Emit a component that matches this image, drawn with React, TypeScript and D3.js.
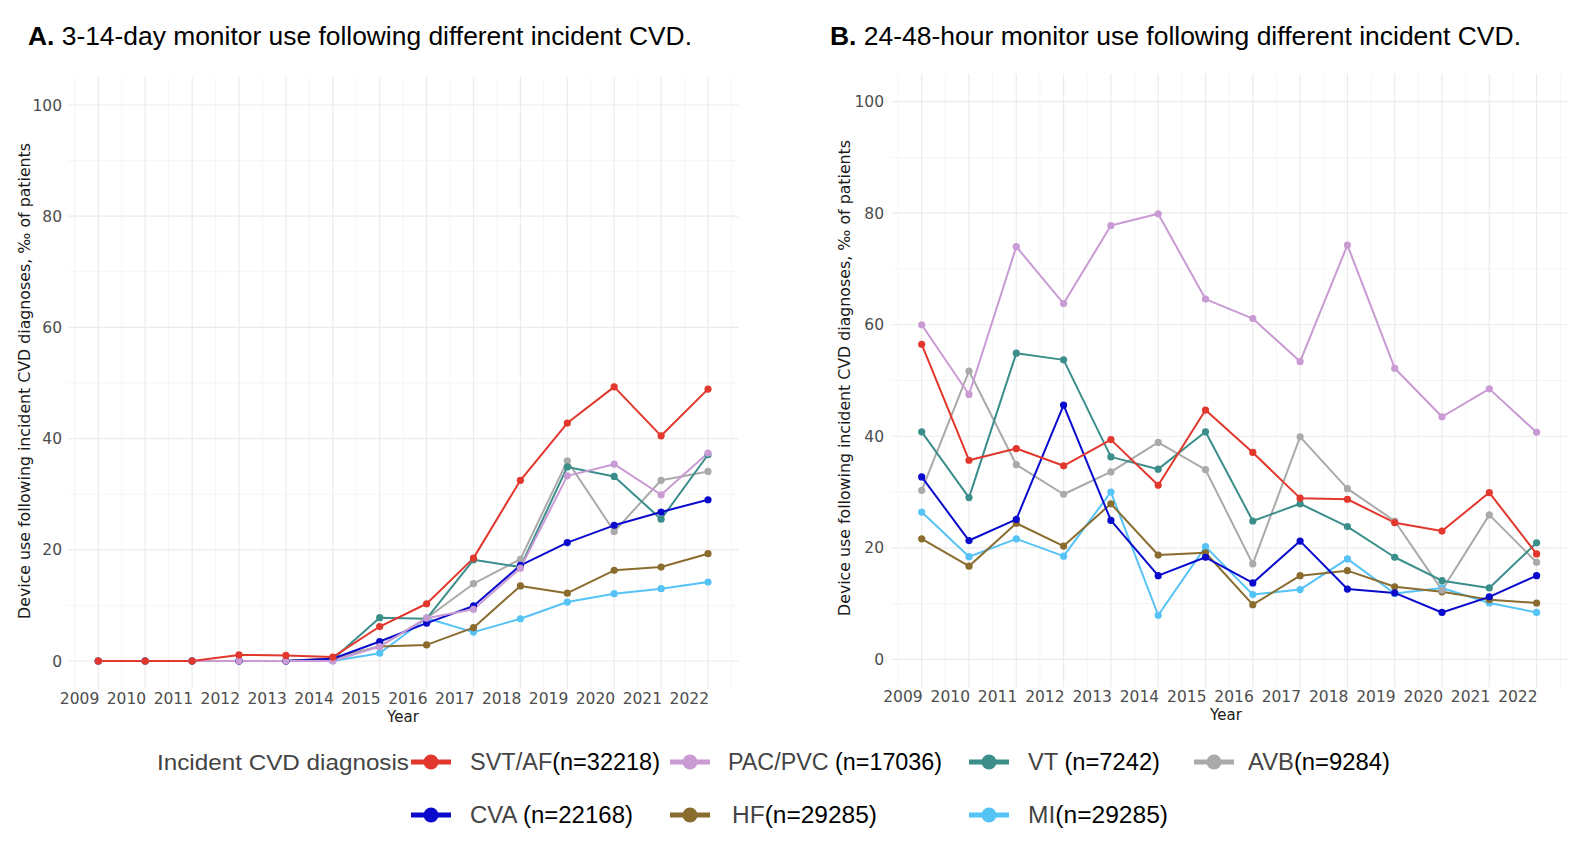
import React from 'react';
import * as d3 from 'd3';

const YEARS = [2009, 2010, 2011, 2012, 2013, 2014, 2015, 2016, 2017, 2018, 2019, 2020, 2021, 2022];
const Y_TICKS = [0, 20, 40, 60, 80, 100];
const Y_MINOR = [10, 30, 50, 70, 90];

const SERIES_NAMES = ['SVT/AF', 'PAC/PVC', 'VT', 'AVB', 'CVA', 'HF', 'MI'];
const SERIES_N = ['(n=32218)', '(n=17036)', '(n=7242)', '(n=9284)', '(n=22168)', '(n=29285)', '(n=29285)'];
const SERIES_SEP = ['', ' ', ' ', '', ' ', '', ''];
const COLORS = ['#E2372C', '#C99AD3', '#3B8E8A', '#AAAAAA', '#0A0ACD', '#8A6C2F', '#55C3F5'];

// Panel A: 3-14-day monitor
const A_SVT = [0, 0, 0, 1.1, 1.0, 0.7, 6.2, 10.3, 18.5, 32.5, 42.8, 49.3, 40.5, 48.9];
const A_PAC = [0, 0, 0, 0, 0, 0, 2.6, 7.7, 9.3, 16.7, 33.3, 35.4, 29.9, 37.4];
const A_VT = [0, 0, 0, 0, 0, 0.3, 7.8, 7.6, 18.2, 16.9, 34.9, 33.2, 25.5, 37.1];
const A_AVB = [0, 0, 0, 0, 0, 0.3, 2.7, 7.7, 13.9, 18.3, 36.0, 23.3, 32.5, 34.1];
const A_CVA = [0, 0, 0, 0, 0, 0.4, 3.5, 6.8, 9.9, 17.2, 21.3, 24.4, 26.8, 29.0];
const A_HF = [0, 0, 0, 0, 0, 0.5, 2.6, 2.9, 6.0, 13.5, 12.2, 16.3, 16.9, 19.3];
const A_MI = [0, 0, 0, 0, 0, 0, 1.4, 7.7, 5.2, 7.6, 10.6, 12.1, 13.0, 14.2];

// Panel B: 24-48-hour monitor
const B_SVT = [56.5, 35.7, 37.8, 34.7, 39.4, 31.2, 44.7, 37.1, 28.9, 28.7, 24.5, 23.0, 29.9, 18.9];
const B_PAC = [60.0, 47.5, 74.0, 63.8, 77.8, 79.9, 64.6, 61.1, 53.4, 74.3, 52.2, 43.5, 48.5, 40.7];
const B_VT = [40.8, 29.0, 54.9, 53.7, 36.3, 34.1, 40.8, 24.8, 27.9, 23.8, 18.3, 14.1, 12.8, 20.9];
const B_AVB = [30.3, 51.7, 34.9, 29.6, 33.6, 38.9, 34.0, 17.1, 39.9, 30.6, 24.8, 12.4, 25.9, 17.4];
const B_CVA = [32.7, 21.3, 25.1, 45.6, 24.9, 15.0, 18.3, 13.7, 21.2, 12.6, 11.9, 8.4, 11.2, 15.0];
const B_HF = [21.6, 16.7, 24.4, 20.3, 27.9, 18.7, 19.1, 9.8, 15.0, 15.9, 13.0, 12.1, 10.7, 10.1];
const B_MI = [26.4, 18.4, 21.6, 18.5, 30.0, 7.9, 20.2, 11.6, 12.5, 18.0, 11.8, 12.8, 10.1, 8.4];

const A_DATA = [A_SVT, A_PAC, A_VT, A_AVB, A_CVA, A_HF, A_MI];
const B_DATA = [B_SVT, B_PAC, B_VT, B_AVB, B_CVA, B_HF, B_MI];

const DRAW_ORDER = [6, 5, 3, 2, 4, 1, 0];

const Y_TITLE = 'Device use following incident CVD diagnoses, \u2030 of patients';

type PanelProps = {
  data: number[][];
  x2009: number;
  step: number;
  y0: number;
  y100: number;
  yTitleX: number;
  yTitleY: number;
  yearX: number;
  yearY: number;
  tickBaseline: number;
  yLabelRight: number;
};

function Panel(p: PanelProps) {
  const x = d3.scaleLinear().domain([2009, 2022]).range([p.x2009, p.x2009 + 13 * p.step]);
  const y = d3.scaleLinear().domain([0, 100]).range([p.y0, p.y100]);
  const xMin = x(2008.35), xMax = x(2022.65);
  const yMin = y(-5), yMax = y(105);
  const line = d3.line<number>().x((_, i) => x(YEARS[i])).y((d) => y(d));
  const minorX = YEARS.map((yr) => yr - 0.5).concat([2022.5]);
  return (
    <g>
      {Y_MINOR.map((v) => (
        <line key={'ym' + v} x1={xMin} x2={xMax} y1={y(v)} y2={y(v)} stroke="#f3f3f3" strokeWidth={0.8} />
      ))}
      {minorX.map((v) => (
        <line key={'xm' + v} x1={x(v)} x2={x(v)} y1={yMin} y2={yMax} stroke="#f3f3f3" strokeWidth={0.8} />
      ))}
      {Y_TICKS.map((v) => (
        <line key={'yM' + v} x1={xMin} x2={xMax} y1={y(v)} y2={y(v)} stroke="#ebebeb" strokeWidth={1.2} />
      ))}
      {YEARS.map((v) => (
        <line key={'xM' + v} x1={x(v)} x2={x(v)} y1={yMin} y2={yMax} stroke="#ebebeb" strokeWidth={1.2} />
      ))}
      {Y_TICKS.map((v) => (
        <text key={'yl' + v} x={p.yLabelRight} y={y(v) + 5.5} textAnchor="end" fontFamily="DejaVu Sans" fontSize={15.5} fill="#4d4d4d">
          {v}
        </text>
      ))}
      {YEARS.map((v) => (
        <text key={'xl' + v} x={x(v) + 1} y={p.tickBaseline} textAnchor="end" fontFamily="DejaVu Sans" fontSize={15.5} fill="#4d4d4d">
          {v}
        </text>
      ))}
      <text x={p.yearX} y={p.yearY} textAnchor="middle" fontFamily="DejaVu Sans" fontSize={15} fill="#1a1a1a">Year</text>
      <text
        transform={`translate(${p.yTitleX},${p.yTitleY}) rotate(-90)`}
        textAnchor="middle"
        fontFamily="DejaVu Sans"
        fontSize={15}
        fill="#1a1a1a"
        textLength={476}
        lengthAdjust="spacingAndGlyphs"
      >
        {Y_TITLE}
      </text>
      {DRAW_ORDER.map((si) => (
        <path key={'l' + si} d={line(p.data[si]) || ''} fill="none" stroke={COLORS[si]} strokeWidth={2} strokeLinejoin="round" />
      ))}
      {DRAW_ORDER.map((si) =>
        p.data[si].map((v, i) => (
          <circle key={'p' + si + '-' + i} cx={x(YEARS[i])} cy={y(v)} r={3.6} fill={COLORS[si]} />
        ))
      )}
    </g>
  );
}

const LEG_KEY_X = [431, 690, 989, 1214, 431, 690, 989];
const LEG_ROW_Y = [762, 762, 762, 762, 815, 815, 815];
const LEG_TEXT_X = [470, 728, 1028, 1248, 470, 732, 1028];
const LEG_TEXT_W = [190, 214, 132, 142, 163, 145, 140];

export default function App() {
  return (
    <div style={{ position: 'absolute', left: 0, top: 0 }}>
      <svg width={1576} height={848} style={{ display: 'block', background: '#fff' }}>
        <text x={28} y={45} fontFamily="Liberation Sans" fontSize={25} fill="#000" textLength={664} lengthAdjust="spacingAndGlyphs">
          <tspan fontWeight="bold">A.</tspan> 3-14-day monitor use following different incident CVD.
        </text>
        <text x={830} y={45} fontFamily="Liberation Sans" fontSize={25} fill="#000" textLength={691} lengthAdjust="spacingAndGlyphs">
          <tspan fontWeight="bold">B.</tspan> 24-48-hour monitor use following different incident CVD.
        </text>
        <Panel
          data={A_DATA}
          x2009={98.3}
          step={46.9}
          y0={661}
          y100={105}
          yTitleX={30}
          yTitleY={381}
          yearX={403}
          yearY={722}
          tickBaseline={704}
          yLabelRight={62}
        />
        <Panel
          data={B_DATA}
          x2009={921.7}
          step={47.3}
          y0={659.3}
          y100={101.7}
          yTitleX={850}
          yTitleY={378}
          yearX={1226}
          yearY={720}
          tickBaseline={702}
          yLabelRight={884}
        />
        <text x={157} y={770} fontFamily="Liberation Sans" fontSize={22} fill="#444" textLength={252} lengthAdjust="spacingAndGlyphs">
          Incident CVD diagnosis
        </text>
        {SERIES_NAMES.map((name, i) => (
          <g key={'leg' + i}>
            <line x1={LEG_KEY_X[i] - 20} x2={LEG_KEY_X[i] + 20} y1={LEG_ROW_Y[i]} y2={LEG_ROW_Y[i]} stroke={COLORS[i]} strokeWidth={5} />
            <circle cx={LEG_KEY_X[i]} cy={LEG_ROW_Y[i]} r={7.5} fill={COLORS[i]} />
            <text
              x={LEG_TEXT_X[i]}
              y={LEG_ROW_Y[i] + 8}
              fontFamily="Liberation Sans"
              fontSize={23}
              textLength={LEG_TEXT_W[i]}
              lengthAdjust="spacingAndGlyphs"
            >
              <tspan fill="#444">{name}</tspan>
              <tspan fill="#000">{SERIES_SEP[i] + SERIES_N[i]}</tspan>
            </text>
          </g>
        ))}
      </svg>
    </div>
  );
}
